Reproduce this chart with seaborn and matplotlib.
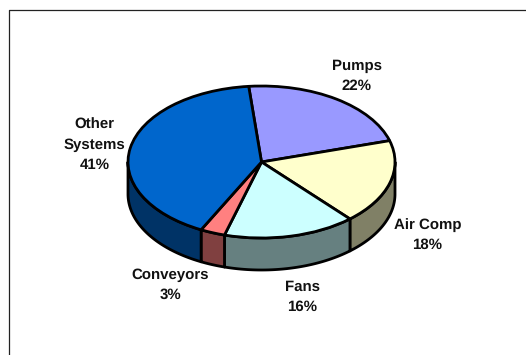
import numpy as np
import matplotlib
matplotlib.use("Agg")
import matplotlib.pyplot as plt
from matplotlib.lines import Line2D
import seaborn as sns

# Share of motor system energy use, clockwise from the back of the disc
categories = ["Pumps", "Air Comp", "Fans", "Conveyors", "Other\nSystems"]
shares = [22, 18, 16, 3, 41]
top_colors = ["#9999FF", "#FFFFCC", "#CCFFFF", "#FF8080", "#0066CC"]
side_colors = ["#4D4D80", "#808066", "#668080", "#804040", "#003366"]

# Layout, in pixels of the 526x355 canvas
W, H = 526, 355
CX, CY = 261.5, 162.0
RX, RY = 133.5, 76.0
DEPTH = 32.0
START_DEG = -5.5
LABEL_XY = [(356.5, 76), (427.5, 235), (302.5, 297), (170, 285), (94.5, 145)]

sns.set_theme(style="white")
plt.rcParams["font.family"] = ["Liberation Sans", "DejaVu Sans"]
plt.rcParams["text.hinting"] = "no_hinting"
plt.rcParams["text.hinting_factor"] = 1

fig = plt.figure(figsize=(W / 100, H / 100), dpi=100, facecolor="white")
ax = fig.add_axes([0, 0, 1, 1])

wedges, _ = ax.pie(
    shares,
    colors=top_colors,
    startangle=90 - START_DEG,
    counterclock=False,
    radius=1.0,
    wedgeprops={"edgecolor": "black", "linewidth": 2.0, "joinstyle": "round", "zorder": 5},
)

# Stretch the unit disc into the tilted ellipse
ax.set_aspect("auto")
ax.set_xlim((0 - CX) / RX, (W - CX) / RX)
ax.set_ylim((CY - H) / RY, CY / RY)
ax.axis("off")

# Rim: the front half of each slice, dropped by the disc thickness
drop = DEPTH / RY
edges = START_DEG + 360 * np.cumsum([0] + shares) / sum(shares)
for lo, hi, color in zip(edges[:-1], edges[1:], side_colors):
    a = max(lo, 90.0)
    b = min(hi, 270.0)
    if a >= b:
        continue
    t = np.radians(np.linspace(a, b, 120))
    x, y = np.sin(t), np.cos(t)
    ax.fill(
        np.r_[x, x[::-1]],
        np.r_[y, y[::-1] - drop],
        facecolor=color,
        edgecolor="black",
        linewidth=2.0,
        joinstyle="round",
        zorder=2,
    )

# Slice names with their percentages
for name, share, (px, py) in zip(categories, shares, LABEL_XY):
    ax.text(
        (px - CX) / RX,
        (CY - py) / RY,
        f"{name}\n{share}%",
        ha="center",
        va="center",
        fontsize=10.8,
        fontweight="bold",
        color="#111111",
        linespacing=1.53,
        zorder=6,
    )

# Outer frame along the top and left of the canvas
frame_x = np.array([9.5, 9.5, W]) / W
frame_y = 1 - np.array([H, 9.5, 9.5]) / H
fig.add_artist(Line2D(frame_x, frame_y, color="#222222", linewidth=0.9))

fig.savefig("out.png", dpi=100, facecolor="white")
